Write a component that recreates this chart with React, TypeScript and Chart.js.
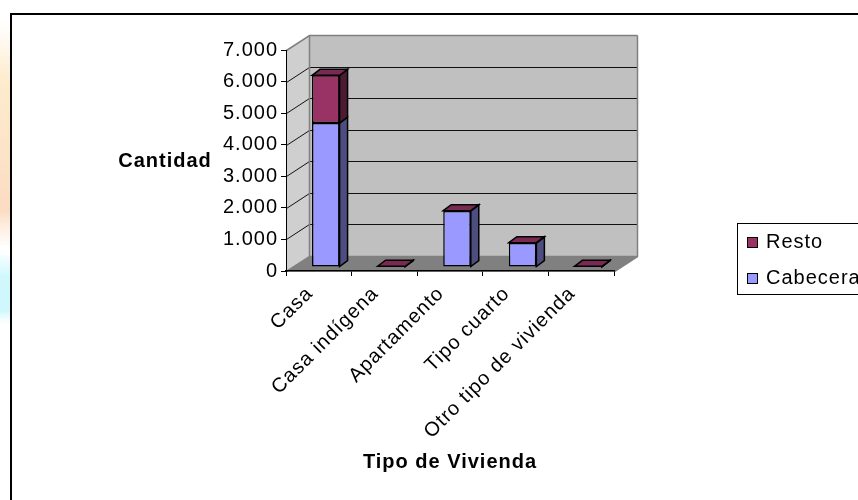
import React, { useEffect, useRef } from 'react';
import { Chart, registerables } from 'chart.js';

Chart.register(...registerables);

// ---- data ----
const categories = ['Casa', 'Casa indígena', 'Apartamento', 'Tipo cuarto', 'Otro tipo de vivienda'];
const cabeceraValues = [4560, 12, 1775, 760, 8];
const restoValues = [1510, 12, 8, 12, 12];
const seriesLabels = ['Cabecera', 'Resto'];
const yTickValues = [0, 1000, 2000, 3000, 4000, 5000, 6000, 7000];
const xAxisTitle = 'Tipo de Vivienda';
const yAxisTitle = 'Cantidad';

// ---- style ----
const FONT_FAMILY = '"Liberation Sans", Arial, Helvetica, sans-serif';
const W = 858;
const H = 500;
const WALL_DX = 23;
const WALL_DY = -15;
const BAR_DX = 8;
const BAR_DY = -6;
const BAR_SHIFT_X = 7;
const BAR_SHIFT_Y = -4;
const COLORS = {
  cabFront: '#9999ff',
  cabSide: '#4d4d80',
  cabTop: '#7a7acc',
  restoFront: '#993366',
  restoSide: '#4d1a33',
  restoTop: '#7a2952',
  backWall: '#c0c0c0',
  sideWall: '#cfcfcf',
  floor: '#808080',
  wallEdge: '#808080',
};

const fmt = (v: number) => String(v).replace(/\B(?=(\d{3})+(?!\d))/g, '.');

function poly(ctx: CanvasRenderingContext2D, pts: number[][], fill?: string, stroke?: string, lw = 1) {
  ctx.beginPath();
  ctx.moveTo(pts[0][0], pts[0][1]);
  for (let i = 1; i < pts.length; i++) ctx.lineTo(pts[i][0], pts[i][1]);
  ctx.closePath();
  if (fill) {
    ctx.fillStyle = fill;
    ctx.fill();
  }
  if (stroke) {
    ctx.strokeStyle = stroke;
    ctx.lineWidth = lw;
    ctx.stroke();
  }
}

const threeDPlugin = {
  id: 'threeD',
  beforeLayout(chart: any) {
    chart.ctx.letterSpacing = '1px';
  },
  beforeDraw(chart: any) {
    const ctx: CanvasRenderingContext2D = chart.ctx;
    ctx.letterSpacing = '1px';
    ctx.save();
    ctx.fillStyle = '#ffffff';
    ctx.fillRect(0, 0, W, H);

    // faint background strip at the far left
    const g1 = ctx.createLinearGradient(0, 20, 0, 245);
    g1.addColorStop(0, 'rgba(253,240,220,0)');
    g1.addColorStop(0.25, 'rgba(253,236,206,1)');
    g1.addColorStop(0.85, 'rgba(252,220,194,1)');
    g1.addColorStop(1, 'rgba(253,240,230,0.3)');
    ctx.fillStyle = g1;
    ctx.fillRect(0, 20, 10, 225);
    const g2 = ctx.createLinearGradient(0, 255, 0, 325);
    g2.addColorStop(0, 'rgba(215,248,252,0.2)');
    g2.addColorStop(0.3, 'rgba(208,248,252,1)');
    g2.addColorStop(0.8, 'rgba(208,248,252,1)');
    g2.addColorStop(1, 'rgba(230,250,252,0)');
    ctx.fillStyle = g2;
    ctx.fillRect(0, 255, 10, 70);

    // outer frame
    ctx.strokeStyle = '#000';
    ctx.lineWidth = 2;
    ctx.strokeRect(11, 14, W + 20, H + 20);

    // walls and floor
    const xs = chart.scales.x;
    const ys = chart.scales.y;
    const L = Math.round(xs.left) + 0.5;
    const R = Math.round(xs.right) + 0.5;
    const top = Math.round(ys.getPixelForValue(yTickValues[yTickValues.length - 1])) + 0.5;
    const bot = Math.round(ys.getPixelForValue(0)) + 0.5;

    poly(ctx, [[L, top], [L + WALL_DX, top + WALL_DY], [L + WALL_DX, bot + WALL_DY], [L, bot]], COLORS.sideWall);
    poly(ctx, [[L + WALL_DX, top + WALL_DY], [R + WALL_DX, top + WALL_DY], [R + WALL_DX, bot + WALL_DY], [L + WALL_DX, bot + WALL_DY]], COLORS.backWall);
    poly(ctx, [[L, bot], [R, bot], [R + WALL_DX, bot + WALL_DY], [L + WALL_DX, bot + WALL_DY]], COLORS.floor);

    // gridlines on walls
    yTickValues.forEach((v, i) => {
      const py = Math.round(ys.getPixelForValue(v)) + 0.5;
      const edge = i === 0 || i === yTickValues.length - 1;
      ctx.beginPath();
      ctx.moveTo(L, py);
      ctx.lineTo(L + WALL_DX, py + WALL_DY);
      ctx.lineTo(R + WALL_DX, py + WALL_DY);
      ctx.strokeStyle = edge ? COLORS.wallEdge : '#111';
      ctx.lineWidth = edge ? 1.5 : 1;
      ctx.stroke();
    });

    // wall edges
    ctx.strokeStyle = COLORS.wallEdge;
    ctx.lineWidth = 1.5;
    ctx.beginPath();
    ctx.moveTo(L + WALL_DX, top + WALL_DY);
    ctx.lineTo(L + WALL_DX, bot + WALL_DY);
    ctx.moveTo(R + WALL_DX, top + WALL_DY);
    ctx.lineTo(R + WALL_DX, bot + WALL_DY);
    ctx.lineTo(R, bot);
    ctx.stroke();
    ctx.restore();
  },
  beforeDatasetsDraw(chart: any) {
    const ctx: CanvasRenderingContext2D = chart.ctx;
    ctx.save();
    ctx.translate(BAR_SHIFT_X, BAR_SHIFT_Y);
  },
  afterDatasetsDraw(chart: any) {
    const ctx: CanvasRenderingContext2D = chart.ctx;
    const sets = [
      { meta: chart.getDatasetMeta(0), side: COLORS.cabSide, top: COLORS.cabTop },
      { meta: chart.getDatasetMeta(1), side: COLORS.restoSide, top: COLORS.restoTop },
    ];
    const n = categories.length;
    for (let i = 0; i < n; i++) {
      sets.forEach((s, si) => {
        const el = s.meta.data[i];
        if (!el) return;
        const p = el.getProps(['x', 'y', 'base', 'width'], true);
        const xl = p.x - p.width / 2;
        const xr = p.x + p.width / 2;
        const t = Math.min(p.y, p.base);
        const b = Math.max(p.y, p.base);
        poly(ctx, [[xr, t], [xr + BAR_DX, t + BAR_DY], [xr + BAR_DX, b + BAR_DY], [xr, b]], s.side, '#000', 1.5);
        if (si === sets.length - 1) {
          poly(ctx, [[xl, t], [xl + BAR_DX, t + BAR_DY], [xr + BAR_DX, t + BAR_DY], [xr, t]], s.top, '#000', 1.5);
        }
      });
    }
    ctx.restore();
  },
  afterDraw(chart: any) {
    const ctx: CanvasRenderingContext2D = chart.ctx;
    ctx.save();
    ctx.letterSpacing = '1px';
    // y axis title, horizontal
    ctx.fillStyle = '#000';
    ctx.font = `bold 20px ${FONT_FAMILY}`;
    ctx.textAlign = 'center';
    ctx.textBaseline = 'middle';
    const ys = chart.scales.y;
    ctx.fillText(yAxisTitle, 165, (ys.top + ys.bottom) / 2 + 1);

    // legend
    ctx.strokeStyle = '#000';
    ctx.lineWidth = 1;
    ctx.strokeRect(737.5, 223.5, 200, 71);
    const entries = [
      { label: seriesLabels[1], color: COLORS.restoFront, y: 242 },
      { label: seriesLabels[0], color: COLORS.cabFront, y: 278 },
    ];
    ctx.font = `20px ${FONT_FAMILY}`;
    ctx.textAlign = 'left';
    entries.forEach((e) => {
      ctx.fillStyle = e.color;
      ctx.fillRect(747.5, e.y - 4.5, 10, 10);
      ctx.strokeRect(747.5, e.y - 4.5, 10, 10);
      ctx.fillStyle = '#000';
      ctx.fillText(e.label, 766, e.y);
    });
    ctx.restore();
  },
};

export default function App() {
  const canvasRef = useRef<HTMLCanvasElement | null>(null);

  useEffect(() => {
    const canvas = canvasRef.current;
    if (!canvas) return;
    const tickFont = { family: FONT_FAMILY, size: 20 };
    const chart = new Chart(canvas, {
      type: 'bar',
      data: {
        labels: categories,
        datasets: [
          {
            label: seriesLabels[0],
            data: cabeceraValues,
            backgroundColor: COLORS.cabFront,
            borderColor: '#000',
            borderWidth: 1.5,
            borderSkipped: false,
            barPercentage: 0.42,
            categoryPercentage: 1,
            clip: false,
          },
          {
            label: seriesLabels[1],
            data: restoValues,
            backgroundColor: COLORS.restoFront,
            borderColor: '#000',
            borderWidth: 1.5,
            borderSkipped: false,
            barPercentage: 0.42,
            categoryPercentage: 1,
            clip: false,
          },
        ],
      },
      options: {
        animation: false,
        responsive: false,
        maintainAspectRatio: false,
        devicePixelRatio: 1,
        layout: { padding: { left: 12, top: 50, right: 244, bottom: 26 } },
        plugins: {
          legend: { display: false },
          tooltip: { enabled: false },
          title: { display: false },
        },
        scales: {
          x: {
            stacked: true,
            grid: { display: true, drawOnChartArea: false, drawTicks: true, tickLength: 5, color: '#000', offset: true },
            border: { display: true, color: '#000', width: 1.5 },
            ticks: {
              autoSkip: false,
              minRotation: 45,
              maxRotation: 45,
              padding: 6,
              labelOffset: -9,
              color: '#000',
              font: tickFont,
            },
            title: {
              display: true,
              text: xAxisTitle,
              color: '#000',
              font: { family: FONT_FAMILY, size: 20, weight: 'bold' },
              padding: 0,
            },
            afterFit: (s: any) => {
              s.height = 203;
            },
          },
          y: {
            stacked: true,
            min: 0,
            max: 7000,
            ticks: {
              stepSize: 1000,
              padding: 3,
              color: '#000',
              font: tickFont,
              callback: (v: any) => fmt(Number(v)),
            },
            grid: { display: true, drawOnChartArea: false, drawTicks: true, tickLength: 5, color: '#000' },
            border: { display: true, color: '#000', width: 1 },
            afterFit: (s: any) => {
              s.width = 274;
            },
          },
        },
      },
      plugins: [threeDPlugin],
    } as any);
    return () => chart.destroy();
  }, []);

  return (
    <div style={{ position: 'fixed', left: 0, top: 0, width: W, height: H, overflow: 'hidden', background: '#fff' }}>
      <canvas ref={canvasRef} width={W} height={H} style={{ display: 'block', width: W, height: H }} />
    </div>
  );
}
